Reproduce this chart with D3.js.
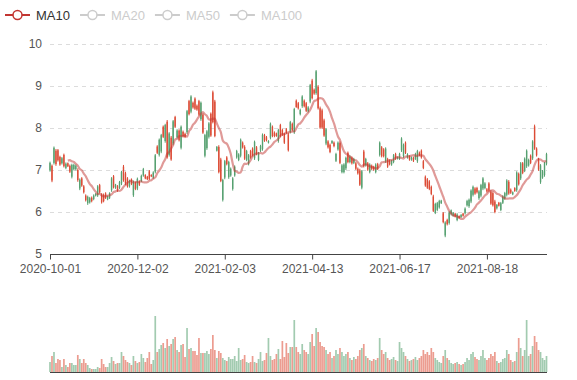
<!DOCTYPE html>
<html><head><meta charset="utf-8">
<script src="https://cdn.jsdelivr.net/npm/d3@7/dist/d3.min.js"></script>
<style>
html,body{margin:0;padding:0;background:#fff}
svg{display:block;font-family:"Liberation Sans",Arial,sans-serif}
</style>
</head><body>
<svg id="chart" width="577" height="380"></svg>
<script>
// ---------- data ----------
const startDate = '2020-10-01';
const holidays = ['2021-01-01','2021-02-11','2021-02-12','2021-02-15','2021-02-16','2021-02-17','2021-05-03','2021-05-04','2021-05-05'];
const dayCount = 251;
const xTickLabels = ['2020-10-01','2020-12-02','2021-02-03','2021-04-13','2021-06-17','2021-08-18'];
const yTicks = [5,6,7,8,9,10];
const legendNames = ['MA10','MA20','MA50','MA100'];
const legendActive = [true,false,false,false];

// [open, close, low, high]
const ohlc = [
[7.17,6.99,6.96,7.20],[6.75,7.10,6.71,7.13],[7.53,7.17,7.13,7.56],[7.14,7.46,7.10,7.50],[7.23,7.47,7.20,7.50],
[7.13,7.31,7.10,7.34],[7.28,7.16,7.13,7.31],[7.09,7.36,7.06,7.39],[7.15,7.05,7.02,7.18],[7.09,7.16,7.07,7.18],
[6.96,7.10,6.93,7.13],[7.12,6.84,6.80,7.15],[7.12,7.02,6.99,7.15],[7.10,7.02,6.99,7.13],[6.76,7.00,6.72,7.04],
[6.77,6.56,6.52,6.80],[6.63,6.80,6.60,6.83],[6.47,6.61,6.44,6.64],[6.28,6.39,6.25,6.42],[6.36,6.21,6.17,6.39],
[6.33,6.23,6.20,6.36],[6.26,6.34,6.23,6.37],[6.39,6.31,6.28,6.42],[6.43,6.39,6.37,6.45],[6.61,6.40,6.36,6.64],
[6.47,6.64,6.44,6.67],[6.23,6.42,6.20,6.45],[6.26,6.41,6.23,6.44],[6.34,6.44,6.31,6.47],[6.37,6.30,6.28,6.39],
[6.45,6.34,6.31,6.47],[6.80,6.52,6.48,6.83],[6.59,6.85,6.56,6.88],[6.65,6.58,6.55,6.67],[6.51,6.61,6.48,6.64],
[6.71,6.58,6.55,6.74],[6.95,6.68,6.64,6.98],[6.76,7.08,6.72,7.12],[6.68,6.92,6.64,6.96],[6.61,6.80,6.58,6.83],
[6.74,6.61,6.58,6.77],[6.67,6.77,6.64,6.80],[6.72,6.40,6.36,6.75],[6.55,6.69,6.52,6.72],[6.79,6.56,6.52,6.82],
[6.65,6.72,6.62,6.75],[6.86,6.74,6.71,6.89],[7.02,6.87,6.84,7.05],[6.80,6.88,6.78,6.90],[6.78,6.84,6.76,6.86],
[6.79,6.97,6.76,7.00],[6.85,6.88,6.83,6.90],[6.94,6.82,6.79,6.97],[7.35,6.96,6.92,7.38],[7.41,7.56,7.38,7.59],
[7.72,7.36,7.32,7.75],[7.83,7.44,7.40,7.86],[7.79,8.03,7.76,8.06],[8.07,7.69,7.65,8.10],[7.30,8.15,7.27,8.19],
[7.87,7.36,7.32,7.90],[7.25,7.77,7.22,7.81],[8.16,7.63,7.59,8.19],[8.03,8.26,8.00,8.29],[7.94,7.78,7.75,7.97],
[7.71,7.94,7.68,7.97],[8.03,7.53,7.49,8.06],[7.81,7.91,7.78,7.94],[7.79,7.86,7.76,7.89],[8.40,7.90,7.86,8.43],
[8.33,8.64,8.30,8.67],[8.75,8.39,8.35,8.78],[8.49,8.60,8.46,8.63],[8.46,8.70,8.43,8.73],[8.44,8.53,8.41,8.56],
[8.32,8.64,8.29,8.67],[8.60,8.21,8.17,8.63],[7.89,8.32,7.86,8.35],[7.83,7.34,7.30,7.86],[7.92,7.52,7.48,7.95],
[8.11,7.79,7.75,8.14],[7.82,8.34,7.79,8.37],[8.14,8.85,8.11,8.89],[7.81,8.63,7.78,8.67],[7.55,7.46,7.44,7.57],
[6.95,7.55,6.92,7.59],[6.74,7.25,6.71,7.29],[6.76,6.29,6.25,6.79],[7.21,6.82,6.78,7.24],[7.14,7.30,7.11,7.33],
[7.19,6.83,6.79,7.22],[7.03,6.87,6.84,7.06],[6.80,6.55,6.51,6.83],[7.08,6.87,6.84,7.11],[7.45,7.30,7.27,7.48],
[7.37,7.24,7.21,7.40],[7.72,7.34,7.30,7.75],[7.54,7.65,7.51,7.68],[7.27,7.55,7.24,7.59],[7.45,7.24,7.21,7.48],
[7.35,7.14,7.11,7.38],[7.30,7.45,7.27,7.48],[7.35,7.51,7.32,7.54],[7.67,7.28,7.24,7.70],[7.38,7.54,7.35,7.57],
[7.40,7.24,7.21,7.43],[7.57,7.46,7.43,7.60],[7.84,7.50,7.46,7.87],[7.70,7.83,7.67,7.86],[7.71,7.78,7.68,7.81],
[7.69,7.65,7.63,7.71],[8.10,7.77,7.73,8.13],[7.81,8.03,7.78,8.06],[7.81,7.89,7.78,7.92],[7.81,7.87,7.79,7.89],
[7.95,7.69,7.65,7.98],[7.81,8.07,7.78,8.10],[7.84,7.95,7.81,7.98],[7.65,7.86,7.62,7.89],[7.88,7.97,7.86,8.00],
[7.47,7.85,7.44,7.89],[8.14,7.91,7.87,8.17],[7.95,8.10,7.92,8.13],[8.45,7.90,7.86,8.48],[8.50,8.65,8.48,8.68],
[8.47,8.59,8.44,8.62],[8.43,8.33,8.30,8.46],[8.75,8.52,8.48,8.78],[8.52,8.65,8.49,8.68],[8.41,8.59,8.38,8.62],
[8.49,8.40,8.37,8.52],[9.02,8.63,8.59,9.05],[8.71,9.13,8.68,9.17],[8.82,8.91,8.79,8.94],[9.35,8.83,8.79,9.38],
[8.47,8.98,8.44,9.02],[8.01,8.47,7.98,8.51],[8.01,8.42,7.98,8.46],[7.82,8.18,7.79,8.22],[7.97,7.63,7.59,8.00],
[7.54,7.68,7.51,7.71],[7.43,7.60,7.40,7.63],[7.69,7.64,7.62,7.71],[7.57,7.65,7.54,7.68],[7.38,7.22,7.19,7.41],
[7.65,7.49,7.46,7.68],[7.17,7.64,7.14,7.68],[7.11,6.95,6.92,7.14],[7.13,6.95,6.92,7.16],[7.29,7.04,7.00,7.32],
[7.19,7.41,7.16,7.44],[7.32,7.19,7.16,7.35],[7.16,7.29,7.13,7.32],[7.26,7.17,7.14,7.29],[7.03,7.16,7.00,7.19],
[6.92,7.03,6.89,7.06],[6.65,6.99,6.62,7.03],[6.97,6.58,6.54,7.00],[7.09,7.44,7.06,7.48],[7.26,7.11,7.08,7.29],
[7.01,7.16,6.98,7.19],[7.13,6.95,6.92,7.16],[7.03,7.10,7.00,7.13],[7.01,7.07,6.98,7.10],[7.13,6.95,6.92,7.16],
[7.03,7.14,7.00,7.17],[7.65,7.36,7.32,7.68],[7.33,7.54,7.30,7.57],[7.33,7.49,7.30,7.52],[7.51,7.21,7.17,7.54],
[7.08,7.26,7.05,7.29],[7.14,7.22,7.11,7.25],[7.21,7.13,7.10,7.24],[7.35,7.19,7.16,7.38],[7.27,7.38,7.24,7.41],
[7.30,7.27,7.25,7.32],[7.38,7.27,7.24,7.41],[7.75,7.47,7.43,7.78],[7.60,7.33,7.29,7.63],[7.41,7.65,7.38,7.68],
[7.37,7.30,7.27,7.40],[7.25,7.32,7.22,7.35],[7.30,7.25,7.22,7.32],[7.22,7.29,7.19,7.32],[7.38,7.27,7.24,7.41],
[7.45,7.21,7.17,7.48],[7.35,7.41,7.33,7.44],[7.30,7.46,7.27,7.49],[7.05,7.21,7.02,7.24],[6.63,6.84,6.60,6.87],
[6.58,6.78,6.55,6.81],[6.55,6.73,6.52,6.76],[6.43,6.60,6.40,6.63],[6.03,6.37,6.00,6.41],[6.19,5.98,5.95,6.22],
[6.21,6.05,6.02,6.24],[6.26,6.11,6.08,6.29],[6.27,6.21,6.19,6.29],[5.76,5.97,5.73,6.00],[5.75,5.44,5.40,5.78],
[5.71,5.81,5.68,5.84],[5.99,5.74,5.70,6.02],[6.04,5.95,5.92,6.06],[5.98,5.91,5.89,6.00],[5.89,5.96,5.87,5.98],
[5.94,5.81,5.78,5.97],[5.86,5.90,5.84,5.92],[5.93,5.88,5.86,5.95],[5.91,5.96,5.89,5.98],[6.08,5.97,5.94,6.11],
[6.26,6.16,6.13,6.29],[6.29,6.14,6.10,6.32],[6.51,6.25,6.21,6.54],[6.60,6.41,6.37,6.63],[6.44,6.56,6.41,6.59],
[6.47,6.57,6.44,6.60],[6.49,6.33,6.29,6.52],[6.64,6.39,6.35,6.67],[6.80,6.56,6.52,6.83],[6.68,6.57,6.54,6.71],
[6.49,6.54,6.46,6.57],[6.51,6.68,6.48,6.71],[6.20,6.48,6.17,6.52],[6.16,6.45,6.13,6.49],[6.00,6.25,5.97,6.29],
[6.17,6.09,6.06,6.19],[6.15,6.22,6.13,6.24],[6.21,6.05,6.02,6.24],[6.37,6.22,6.19,6.40],[6.45,6.32,6.29,6.48],
[6.75,6.41,6.37,6.78],[6.44,6.72,6.41,6.76],[6.46,6.53,6.43,6.56],[6.47,6.42,6.40,6.49],[6.50,6.57,6.48,6.59],
[6.94,6.52,6.48,6.97],[6.66,6.91,6.63,6.94],[7.16,6.80,6.76,7.19],[6.93,7.16,6.90,7.19],[7.27,6.99,6.95,7.30],
[7.46,7.09,7.05,7.49],[7.24,7.11,7.08,7.27],[7.17,7.34,7.14,7.37],[7.68,7.28,7.24,7.71],[7.51,8.04,7.48,8.08],
[7.35,7.51,7.32,7.54],[7.01,7.26,6.98,7.29],[7.11,6.71,6.67,7.14],[6.97,6.82,6.79,7.00],[7.16,6.88,6.84,7.19],
[7.38,7.15,7.11,7.41]
];

const volumes = [
10,16,20,9,13,12,5,13,7,5, 9,9,7,7,17,13,9,13,9,7,
4,3,3,3,5,4,13,8,5,5, 9,15,11,8,9,9,20,16,12,10,
9,7,16,11,9,10,18,14,10,14, 20,8,12,56,20,23,27,29,24,33,
26,28,33,35,22,20,27,28,15,44, 23,24,21,21,17,34,19,19,19,21,
18,23,37,22,14,21,19,14,12,11, 15,13,13,16,11,24,12,13,17,10,
9,10,16,10,9,13,20,11,12,19, 34,16,12,13,18,23,13,31,15,29,
19,25,25,52,25,20,18,28,22,20, 18,30,38,26,44,40,30,26,25,22,
18,20,14,16,22,18,24,20,16,18, 20,14,12,15,13,16,22,24,28,16,
14,12,11,13,12,14,34,22,18,20, 14,12,13,15,12,11,30,24,20,16,
13,11,12,13,15,12,14,16,22,18, 20,17,24,20,14,12,10,9,16,22,
14,12,9,8,9,10,8,7,8,10, 14,12,18,20,15,13,12,16,22,14,
12,14,18,16,20,11,9,10,13,14, 22,18,12,10,11,20,34,24,16,22,
52,16,18,26,36,30,22,20,14,12,16
];

// ---------- categories (trading calendar) ----------
function tradingDates(start, n, skip) {
  const out = [];
  const d = new Date(start + 'T00:00:00Z');
  const fmt = d3.utcFormat('%Y-%m-%d');
  while (out.length < n) {
    const s = fmt(d), wd = d.getUTCDay();
    if (wd !== 0 && wd !== 6 && !skip.includes(s)) out.push(s);
    d.setUTCDate(d.getUTCDate() + 1);
  }
  return out;
}
const dates = tradingDates(startDate, dayCount, holidays);

// moving average as the chart computes it
function movingAverage(n) {
  return ohlc.map((r, i) => i < n - 1 ? null : d3.mean(ohlc.slice(i - n + 1, i + 1), q => q[1]));
}
const ma10 = movingAverage(10);

// ---------- layout ----------
const svg = d3.select('#chart');
const UP = '#dc4b35', DOWN = '#56a070', MA = '#c23531';
const left = 50, right = 546.5;
const x = d3.scalePoint().domain(dates).range([left, right]);
const y = d3.scaleLinear().domain([5, 10]).range([254, 44]);
const yv = d3.scaleLinear().domain([0, 60]).range([372, 312]);

// gridlines
svg.append('g').selectAll('line').data(yTicks.filter(t => t > 5)).join('line')
  .attr('x1', left).attr('x2', right + 0.5)
  .attr('y1', d => Math.round(y(d)) + 0.5).attr('y2', d => Math.round(y(d)) + 0.5)
  .attr('stroke', '#dcdcdc').attr('stroke-dasharray', '4,4');

// y labels
svg.append('g').selectAll('text').data(yTicks).join('text')
  .attr('x', 42).attr('y', d => y(d)).attr('dy', '0.35em')
  .attr('text-anchor', 'end').attr('font-size', 12).attr('fill', '#555')
  .text(d => d);

// x axis
const xAxis = d3.axisBottom(x).tickValues(xTickLabels).tickSize(5).tickPadding(5);
const gx = svg.append('g').attr('transform', 'translate(0,254.5)').call(xAxis);
gx.select('.domain').attr('stroke', '#444').attr('d', `M${left},0H${right + 0.5}`);
gx.selectAll('.tick line').attr('stroke', '#444');
gx.selectAll('.tick text').attr('font-size', 12).attr('fill', '#555')
  .attr('font-family', '"Liberation Sans",Arial,sans-serif');

// candles
const candle = svg.append('g').selectAll('g').data(ohlc).join('g');
candle.append('line')
  .attr('x1', (d, i) => x(dates[i])).attr('x2', (d, i) => x(dates[i]))
  .attr('y1', d => y(d[3])).attr('y2', d => y(d[2]))
  .attr('stroke', d => d[1] > d[0] ? UP : DOWN).attr('stroke-width', 1);
candle.append('rect')
  .attr('x', (d, i) => x(dates[i]) - 0.7).attr('width', 1.4)
  .attr('y', d => y(Math.max(d[0], d[1])))
  .attr('height', d => Math.max(0.5, Math.abs(y(d[0]) - y(d[1]))))
  .attr('fill', d => d[1] > d[0] ? UP : DOWN);

// MA10 line
const maLine = d3.line()
  .defined(d => d != null)
  .x((d, i) => x(dates[i])).y(d => y(d))
  .curve(d3.curveMonotoneX);
svg.append('path').datum(ma10).attr('d', maLine)
  .attr('fill', 'none').attr('stroke', MA).attr('stroke-width', 2.2).attr('stroke-opacity', 0.5);

// volume
svg.append('g').selectAll('rect').data(volumes).join('rect')
  .attr('x', (d, i) => x(dates[i]) - 0.85).attr('width', 1.7)
  .attr('y', d => yv(d)).attr('height', d => 372 - yv(d))
  .attr('fill', (d, i) => ohlc[i][1] > ohlc[i][0] ? UP : DOWN)
  .attr('fill-opacity', 0.55);
svg.append('line').attr('x1', left).attr('x2', right + 0.5)
  .attr('y1', 372.5).attr('y2', 372.5).attr('stroke', '#444');

// legend
let lx = 5;
legendNames.forEach((name, k) => {
  const col = legendActive[k] ? MA : '#ccc';
  const g = svg.append('g');
  g.append('line').attr('x1', lx).attr('x2', lx + 25).attr('y1', 15).attr('y2', 15)
    .attr('stroke', col).attr('stroke-width', 2);
  g.append('circle').attr('cx', lx + 12.5).attr('cy', 15).attr('r', 4.5)
    .attr('fill', '#fff').attr('stroke', col).attr('stroke-width', 1.5);
  const t = g.append('text').attr('x', lx + 31).attr('y', 15).attr('dy', '0.35em')
    .attr('font-size', 13).attr('fill', legendActive[k] ? '#333' : '#ccc').text(name);
  lx += 31 + t.node().getComputedTextLength() + 10;
});
</script>
</body></html>
